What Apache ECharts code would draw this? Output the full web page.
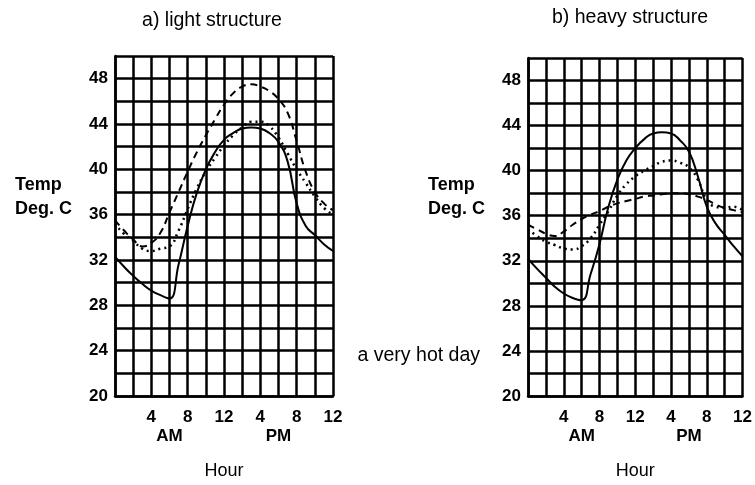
<!DOCTYPE html>
<html>
<head>
<meta charset="utf-8">
<script src="https://cdn.jsdelivr.net/npm/echarts@6/dist/echarts.min.js"></script>
<style>
html,body{margin:0;padding:0;background:#fff;}
#chart{width:755px;height:485px;}
</style>
</head>
<body>
<div id="chart"></div>
<script>
// Hours of the day (0 = midnight)
const hours = [0,1,2,3,4,5,6,7,8,9,10,11,12,13,14,15,16,17,18,19,20,21,22,23,24];

// a) light structure (deg C)
const lightSolid  = [32.3,31.4,30.6,29.9,29.3,28.9,28.6,31.6,35.0,37.9,40.0,41.5,42.6,43.2,43.6,43.7,43.6,43.2,42.4,40.7,37.0,35.0,34.2,33.4,32.8];
const lightDashed = [35.5,34.6,33.8,33.2,33.5,34.4,36.2,38.0,39.8,41.5,43.0,44.4,45.7,46.7,47.3,47.5,47.3,46.9,46.2,45.0,42.5,39.8,38.0,37.0,36.4];
const lightDotted = [35.2,34.3,33.7,33.0,32.8,33.0,33.2,34.6,36.5,38.3,39.8,41.0,42.1,43.0,43.7,44.2,44.2,43.8,42.8,41.4,40.0,38.8,37.6,36.6,36.0];

// b) heavy structure (deg C)
const heavySolid  = [32.2,31.3,30.5,29.7,29.1,28.7,28.5,30.8,33.5,36.8,39.2,40.9,42.0,42.8,43.3,43.4,43.3,42.7,41.7,39.5,36.8,35.3,34.3,33.3,32.4];
const heavyDashed = [35.2,34.8,34.4,34.2,34.6,35.2,35.7,36.1,36.4,36.8,37.1,37.3,37.5,37.7,37.8,37.9,38.0,38.0,37.9,37.7,37.4,37.0,36.7,36.5,36.3];
const heavyDotted = [34.8,34.2,33.7,33.4,33.1,33.0,33.3,34.0,35.2,36.4,37.8,38.8,39.5,40.0,40.4,40.8,40.9,40.7,40.3,39.2,37.4,36.8,36.7,36.8,36.5];

// Axis labels
const yTickLabels = [20,24,28,32,36,40,44,48];
const xTickLabels = {4:'4', 8:'8', 12:'12', 16:'4', 20:'8', 24:'12'};
const periodLabels = {6:'AM', 18:'PM'};

const titles = ['a) light structure', 'b) heavy structure'];

const FONT = "'Liberation Sans', Arial, Helvetica, sans-serif";

function pairs(vals){ return hours.map((h,i)=>[h, vals[i]]); }

function xAxis(gi){
  return {
    type:'value', gridIndex:gi, min:0, max:24, interval:2,
    name:'Hour', nameLocation:'middle', nameGap:66,
    nameTextStyle:{fontFamily:FONT, fontSize:18, color:'#000'},
    axisLine:{show:true, lineStyle:{color:'#000', width:2.5}},
    axisTick:{show:false},
    splitLine:{show:true, lineStyle:{color:'#000', width:2.5}},
    axisLabel:{
      show:true, interval:0, margin:12, color:'#000', fontFamily:FONT,
      fontSize:17, fontWeight:'bold', lineHeight:19, hideOverlap:false,
      formatter:function(v){
        if (xTickLabels[v]) return xTickLabels[v];
        if (periodLabels[v]) return ' \n' + periodLabels[v];
        return '';
      }
    }
  };
}
function yAxis(gi){
  return {
    type:'value', gridIndex:gi, min:20, max:50, interval:2,
    axisLine:{show:true, lineStyle:{color:'#000', width:2.5}},
    axisTick:{show:false},
    splitLine:{show:true, lineStyle:{color:'#000', width:2.5}},
    axisLabel:{
      show:true, margin:7, color:'#000', fontFamily:FONT, fontSize:17, fontWeight:'bold',
      formatter:function(v){ return yTickLabels.indexOf(v) >= 0 ? String(v) : ''; }
    }
  };
}
function line(gi, vals, type){
  const ls = {color:'#000', width:2};
  if (type === 'dashed') { ls.type = [7,5]; ls.width = 2; }
  if (type === 'dotted') { ls.type = [2,4]; ls.width = 2.5; }
  return {
    type:'line', xAxisIndex:gi, yAxisIndex:gi, data:pairs(vals),
    smooth:0.5, showSymbol:false, symbol:'none', lineStyle:ls, z:5, silent:true
  };
}

const chart = echarts.init(document.getElementById('chart'), null, {renderer:'canvas'});
chart.setOption({
  animation:false,
  backgroundColor:'#fff',
  title:[
    {text:titles[0], left:207, top:6, textAlign:'center', textStyle:{fontFamily:FONT, fontSize:19.5, fontWeight:'normal', color:'#000'}},
    {text:titles[1], left:625, top:3, textAlign:'center', textStyle:{fontFamily:FONT, fontSize:19.5, fontWeight:'normal', color:'#000'}}
  ],
  grid:[
    {left:115, top:56, width:218, height:342, containLabel:false},
    {left:528, top:58, width:217, height:340, containLabel:false}
  ],
  xAxis:[xAxis(0), xAxis(1)],
  yAxis:[yAxis(0), yAxis(1)],
  series:[
    line(0, lightSolid, 'solid'),
    line(0, lightDashed, 'dashed'),
    line(0, lightDotted, 'dotted'),
    line(1, heavySolid, 'solid'),
    line(1, heavyDashed, 'dashed'),
    line(1, heavyDotted, 'dotted')
  ],
  graphic:[
    {type:'text', left:15, top:176, style:{text:'Temp', font:"bold 18px "+FONT, fill:'#000'}},
    {type:'text', left:15, top:200, style:{text:'Deg. C', font:"bold 18px "+FONT, fill:'#000'}},
    {type:'text', left:428, top:176, style:{text:'Temp', font:"bold 18px "+FONT, fill:'#000'}},
    {type:'text', left:428, top:200, style:{text:'Deg. C', font:"bold 18px "+FONT, fill:'#000'}},
    {type:'text', right:275, top:346, style:{text:'a very hot day', font:"19.5px "+FONT, fill:'#000'}}
  ]
});
</script>
</body>
</html>
